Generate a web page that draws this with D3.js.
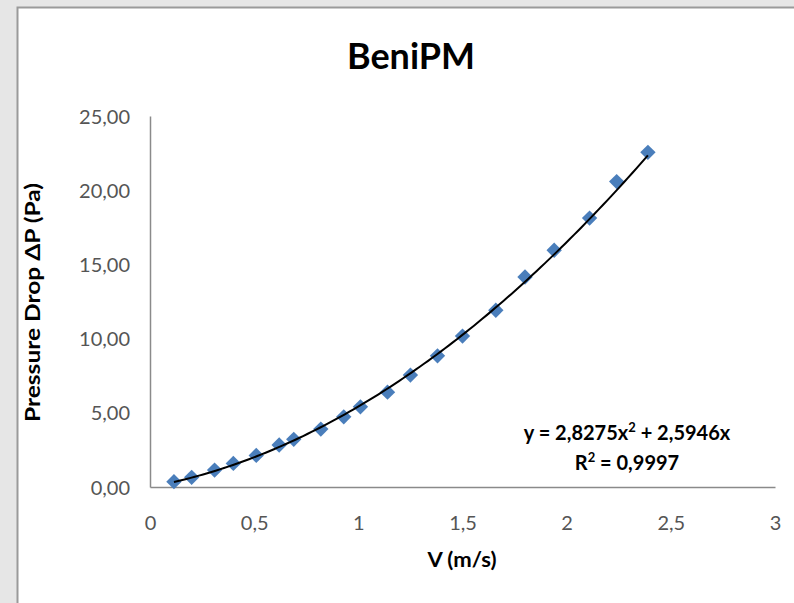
<!DOCTYPE html>
<html>
<head>
<meta charset="utf-8">
<script src="https://cdn.jsdelivr.net/npm/d3@7"></script>
<style>
html,body{margin:0;padding:0;background:#e6e6e6;}
svg{display:block;}
</style>
</head>
<body>
<svg id="chart" width="794" height="603"></svg>
<script>
// Data
const velocity = [0.115,0.20,0.31,0.40,0.51,0.62,0.69,0.82,0.93,1.01,1.14,1.25,1.38,1.50,1.66,1.80,1.94,2.11,2.24,2.39];
const pressureDrop = [0.36,0.65,1.14,1.59,2.13,2.83,3.21,3.90,4.73,5.40,6.39,7.54,8.84,10.17,11.91,14.15,15.95,18.12,20.58,22.55];
const xTicks = [0,0.5,1,1.5,2,2.5,3];
const yTicks = [0,5,10,15,20,25];
const trendA = 2.8275, trendB = 2.5946;
const equationText = ["y = 2,8275x", "2", " + 2,5946x"];
const r2Text = ["R", "2", " = 0,9997"];

const svg = d3.select("#chart");
const font = "Lato, 'Open Sans', sans-serif";

// panel
svg.append("rect").attr("x",0).attr("y",0).attr("width",794).attr("height",603).attr("fill","#e6e6e6");
svg.append("rect").attr("x",17.5).attr("y",7.5).attr("width",800).attr("height",620)
  .attr("fill","#ffffff").attr("stroke","#9a9a9a").attr("stroke-width",2);

const x = d3.scaleLinear().domain([0,3]).range([150,775]);
const y = d3.scaleLinear().domain([0,25]).range([487,116]);
const fmtComma = d => d3.format(".2f")(d).replace(".", ",");
const fmtX = d => String(d).replace(".", ",");

// title
svg.append("text").attr("x",411).attr("y",69).attr("text-anchor","middle")
  .attr("font-family",font).attr("font-weight","bold").attr("font-size",37).attr("fill","#000")
  .attr("textLength",128).attr("lengthAdjust","spacingAndGlyphs")
  .text("BeniPM");

// y axis
const yAxis = d3.axisLeft(y).tickValues(yTicks).tickSize(0).tickPadding(20).tickFormat(fmtComma);
const gy = svg.append("g").attr("transform",`translate(${x(0)},0)`).call(yAxis);
gy.select(".domain").attr("stroke","#8a8a8a").attr("stroke-width",1.5);
gy.selectAll("text").attr("font-family",font).attr("font-size",20).attr("fill","#555").attr("dy","0.35em");

// x axis
const xAxis = d3.axisBottom(x).tickValues(xTicks).tickSize(0).tickPadding(43).tickFormat(fmtX);
const gx = svg.append("g").attr("transform",`translate(0,${y(0)})`).call(xAxis);
gx.select(".domain").attr("stroke","#8a8a8a").attr("stroke-width",1.5);
gx.selectAll("text").attr("font-family",font).attr("font-size",20).attr("fill","#555").attr("dy","0");

// axis titles
svg.append("text").attr("transform","translate(40,302.5) rotate(-90)").attr("text-anchor","middle")
  .attr("font-family",font).attr("font-weight","bold").attr("font-size",20).attr("fill","#000")
  .attr("textLength",239).attr("lengthAdjust","spacingAndGlyphs")
  .text("Pressure Drop ΔP (Pa)");
svg.append("text").attr("x",462).attr("y",567).attr("text-anchor","middle")
  .attr("font-family",font).attr("font-weight","bold").attr("font-size",21).attr("fill","#000")
  .attr("textLength",69).attr("lengthAdjust","spacingAndGlyphs")
  .text("V (m/s)");

// points
const pts = velocity.map((v,i)=>({v, p: pressureDrop[i]}));
svg.append("g").selectAll("path").data(pts).join("path")
  .attr("d", d3.symbol().type(d3.symbolSquare).size(118))
  .attr("transform", d=>`translate(${x(d.v)},${y(d.p)}) rotate(45)`)
  .attr("fill","#4a7ebb");

// trendline (from displayed equation)
const xs = d3.range(velocity[0], velocity[velocity.length-1]+1e-9, 0.02);
xs.push(velocity[velocity.length-1]);
const line = d3.line().x(d=>x(d)).y(d=>y(trendA*d*d+trendB*d)).curve(d3.curveMonotoneX);
svg.append("path").datum(xs).attr("d",line).attr("fill","none").attr("stroke","#000").attr("stroke-width",2);

// equation labels
function supText(cx, cy, parts){
  const t = svg.append("text").attr("x",cx).attr("y",cy).attr("text-anchor","middle")
    .attr("font-family",font).attr("font-weight","bold").attr("font-size",20).attr("fill","#000");
  t.append("tspan").text(parts[0]);
  t.append("tspan").attr("dy",-8).attr("font-size",13).text(parts[1]);
  t.append("tspan").attr("dy",8).text(parts[2]);
}
supText(627, 440, equationText);
supText(627, 470, r2Text);
</script>
</body>
</html>
